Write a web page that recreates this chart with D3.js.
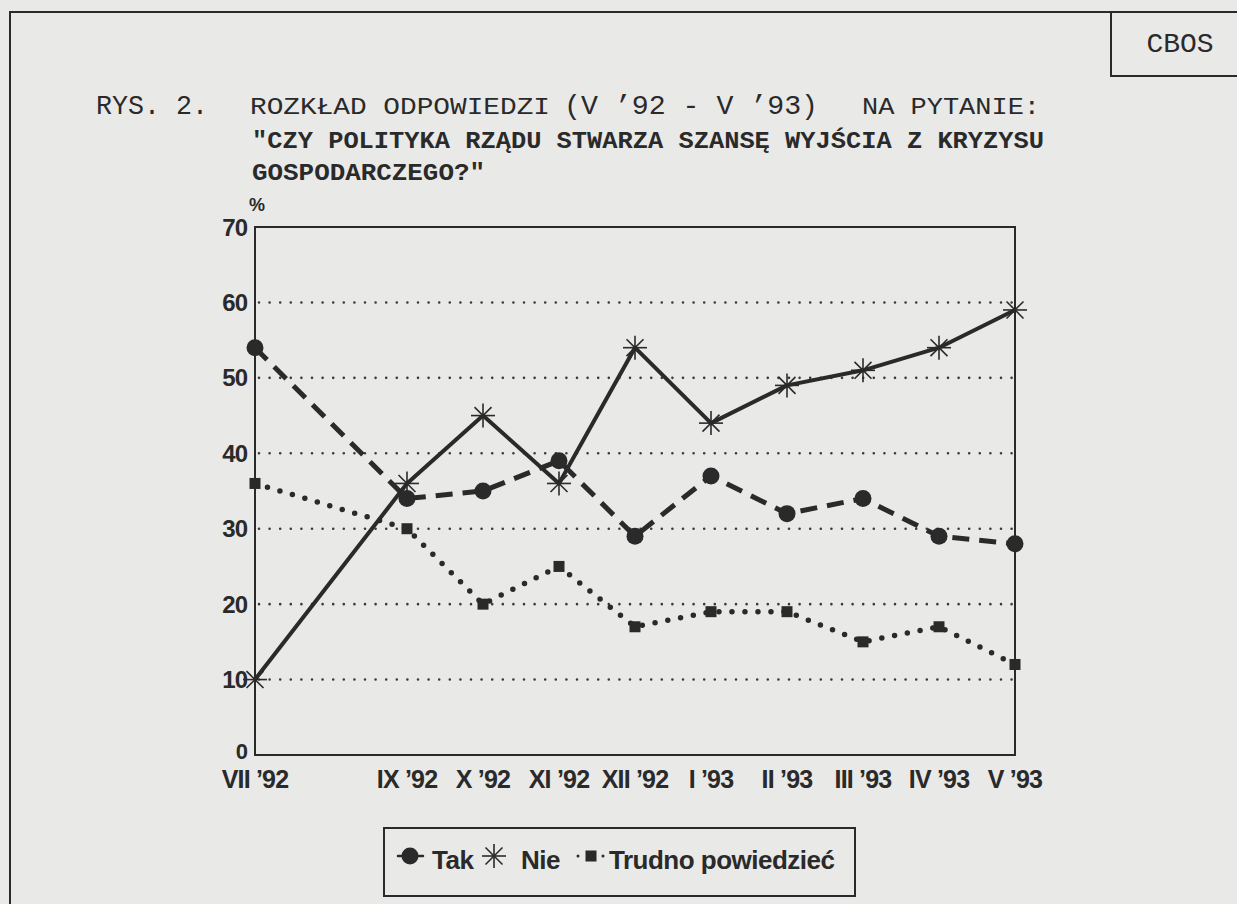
<!DOCTYPE html>
<html>
<head>
<meta charset="utf-8">
<script src="https://cdn.jsdelivr.net/npm/d3@7/dist/d3.min.js"></script>
<style>
  html, body { margin: 0; padding: 0; background: #e9e9e8; }
  svg { display: block; }
</style>
</head>
<body>
<div id="chart"></div>
<script>
// survey months (VIII '92 missing, so index keeps the gap)
var months = ["VII '92", "IX '92", "X '92", "XI '92", "XII '92", "I '93", "II '93", "III '93", "IV '93", "V '93"];
var monthIndex = [0, 2, 3, 4, 5, 6, 7, 8, 9, 10];

var tak = [54, 34, 35, 39, 29, 37, 32, 34, 29, 28];
var nie = [10, 36, 45, 36, 54, 44, 49, 51, 54, 59];
var trudno = [36, 30, 20, 25, 17, 19, 19, 15, 17, 12];

var yTicks = [0, 10, 20, 30, 40, 50, 60, 70];
var gridTicks = [10, 20, 30, 40, 50, 60];

var width = 1237,
    height = 904,
    ink = "#2a2a2a",
    plot = {left: 255, right: 1015, top: 227, bottom: 755},
    mono = "'Courier New', 'Liberation Mono', monospace",
    sans = "'Liberation Sans', Arial, sans-serif";

var svg = d3.select("#chart").append("svg")
    .attr("width", width)
    .attr("height", height);

svg.append("rect")
    .attr("width", width).attr("height", height)
    .attr("fill", "#e9e9e8");

// page frame and CBOS box
svg.append("path")
    .attr("d", "M10," + height + "V12H" + width)
    .attr("fill", "none").attr("stroke", ink).attr("stroke-width", 2);
svg.append("path")
    .attr("d", "M1111,12V76H" + width)
    .attr("fill", "none").attr("stroke", ink).attr("stroke-width", 2);
svg.append("text")
    .attr("x", 1180).attr("y", 52)
    .attr("text-anchor", "middle")
    .style("font-family", mono).style("font-size", "28px")
    .attr("fill", ink)
    .text("CBOS");

// title
var titleParts = [
  {text: "RYS. 2.", x: 96, len: 112, size: 28},
  {text: "ROZKŁAD ODPOWIEDZI", x: 250, len: 300, size: 23},
  {text: "(V \u201992 - V \u201993)", x: 564, len: 254, size: 28},
  {text: "NA PYTANIE:", x: 862, len: 178, size: 23}
];
svg.selectAll("text.title1").data(titleParts).enter().append("text")
    .attr("class", "title1")
    .attr("x", function(d) { return d.x; })
    .attr("y", 114)
    .attr("textLength", function(d) { return d.len; })
    .attr("lengthAdjust", "spacingAndGlyphs")
    .style("font-family", mono)
    .style("font-size", function(d) { return d.size + "px"; })
    .attr("fill", ink)
    .text(function(d) { return d.text; });

var titleLines = [
  {text: "\"CZY POLITYKA RZĄDU STWARZA SZANSĘ WYJŚCIA Z KRYZYSU", y: 148, len: 792},
  {text: "GOSPODARCZEGO?\"", y: 180, len: 233}
];
svg.selectAll("text.title2").data(titleLines).enter().append("text")
    .attr("class", "title2")
    .attr("x", 252)
    .attr("y", function(d) { return d.y; })
    .attr("textLength", function(d) { return d.len; })
    .attr("lengthAdjust", "spacingAndGlyphs")
    .style("font-family", mono).style("font-size", "24px").style("font-weight", "bold")
    .attr("fill", ink)
    .text(function(d) { return d.text; });

// scales
var x = d3.scaleLinear().domain([0, 10]).range([plot.left, plot.right]);
var y = d3.scaleLinear().domain([0, 70]).range([plot.bottom, plot.top]);

var g = svg.append("g");

// dotted grid
g.selectAll("line.grid").data(gridTicks).enter().append("line")
    .attr("class", "grid")
    .attr("x1", plot.left + 4).attr("x2", plot.right)
    .attr("y1", function(d) { return y(d); })
    .attr("y2", function(d) { return y(d); })
    .attr("stroke", "#3a3a3a")
    .attr("stroke-width", 2.6)
    .attr("stroke-linecap", "round")
    .attr("stroke-dasharray", "0,10.6");

// plot frame
g.append("rect")
    .attr("x", plot.left).attr("y", plot.top)
    .attr("width", plot.right - plot.left)
    .attr("height", plot.bottom - plot.top)
    .attr("fill", "none").attr("stroke", ink).attr("stroke-width", 2);

// y tick labels ("0" sits a little higher, above the month labels)
g.selectAll("text.ytick").data(yTicks).enter().append("text")
    .attr("class", "ytick")
    .attr("x", plot.left - 8)
    .attr("y", function(d) { return d === 0 ? y(d) - 4 : y(d); })
    .attr("dy", "0.36em")
    .attr("text-anchor", "end")
    .style("font-family", sans)
    .style("font-size", function(d) { return d === 0 ? "22px" : "24px"; })
    .style("font-weight", "bold")
    .style("letter-spacing", "-1px")
    .attr("fill", ink)
    .text(function(d) { return d; });

svg.append("text")
    .attr("x", 249).attr("y", 211)
    .style("font-family", sans).style("font-size", "18px").style("font-weight", "bold")
    .attr("fill", ink)
    .text("%");

// x tick labels
g.selectAll("text.xtick").data(months).enter().append("text")
    .attr("class", "xtick")
    .attr("x", function(d, i) { return x(monthIndex[i]); })
    .attr("y", 788)
    .attr("text-anchor", "middle")
    .style("font-family", sans).style("font-size", "25px").style("font-weight", "bold")
    .style("letter-spacing", "-0.8px")
    .attr("fill", ink)
    .text(function(d) { return d.replace("'", "\u2019"); });

// series
var series = [
  {name: "Tak", values: tak, dash: "17,10", width: 5, cap: "butt", marker: "circle"},
  {name: "Nie", values: nie, dash: null, width: 4, cap: "butt", marker: "star"},
  {name: "Trudno powiedzieć", values: trudno, dash: "0,13", width: 5.5, cap: "round", marker: "square"}
];

var line = d3.line()
    .x(function(d) { return x(d.m); })
    .y(function(d) { return y(d.v); });

function points(values) {
  return values.map(function(v, i) { return {m: monthIndex[i], v: v}; });
}

function drawMarker(sel, type, cx, cy) {
  if (type === "circle") {
    sel.append("circle").attr("cx", cx).attr("cy", cy).attr("r", 8.5).attr("fill", ink);
  } else if (type === "square") {
    sel.append("rect").attr("x", cx - 5.5).attr("y", cy - 5.5)
      .attr("width", 11).attr("height", 11).attr("fill", ink);
  } else {
    var r = 12;
    [0, 45, 90, 135].forEach(function(a) {
      var dx = r * Math.cos(a * Math.PI / 180), dy = r * Math.sin(a * Math.PI / 180);
      sel.append("line")
        .attr("x1", cx - dx).attr("y1", cy - dy)
        .attr("x2", cx + dx).attr("y2", cy + dy)
        .attr("stroke", ink).attr("stroke-width", 1.6);
    });
  }
}

series.forEach(function(s) {
  g.append("path")
    .datum(points(s.values))
    .attr("d", line)
    .attr("fill", "none")
    .attr("stroke", ink)
    .attr("stroke-width", s.width)
    .attr("stroke-linecap", s.cap)
    .attr("stroke-linejoin", "round")
    .attr("stroke-dasharray", s.dash);
});

series.forEach(function(s) {
  var mg = g.append("g").attr("class", "markers");
  points(s.values).forEach(function(p) {
    drawMarker(mg, s.marker, x(p.m), y(p.v));
  });
});

// legend
var legend = svg.append("g").attr("class", "legend");
legend.append("rect")
    .attr("x", 384).attr("y", 828)
    .attr("width", 471).attr("height", 68)
    .attr("fill", "none").attr("stroke", ink).attr("stroke-width", 2);

var legendItems = [
  {s: series[0], x0: 398, x1: 423, mx: 410, tx: 432},
  {s: series[1], x0: 482, x1: 507, mx: 494, tx: 521},
  {s: series[2], x0: 578, x1: 604, mx: 591, tx: 609}
];
var ly = 856;
legendItems.forEach(function(d) {
  if (d.s.marker !== "star") {
    legend.append("line")
      .attr("x1", d.x0).attr("x2", d.x1)
      .attr("y1", ly).attr("y2", ly)
      .attr("stroke", ink)
      .attr("stroke-width", d.s.marker === "square" ? 3 : 2.5)
      .attr("stroke-linecap", "round")
      .attr("stroke-dasharray", d.s.marker === "square" ? "0,12.5" : null);
  }
  drawMarker(legend, d.s.marker, d.mx, ly);
  legend.append("text")
    .attr("x", d.tx).attr("y", 869)
    .style("font-family", sans).style("font-size", "26px").style("font-weight", "bold")
    .style("letter-spacing", "-0.5px")
    .attr("fill", ink)
    .text(d.s.name);
});
</script>
</body>
</html>
